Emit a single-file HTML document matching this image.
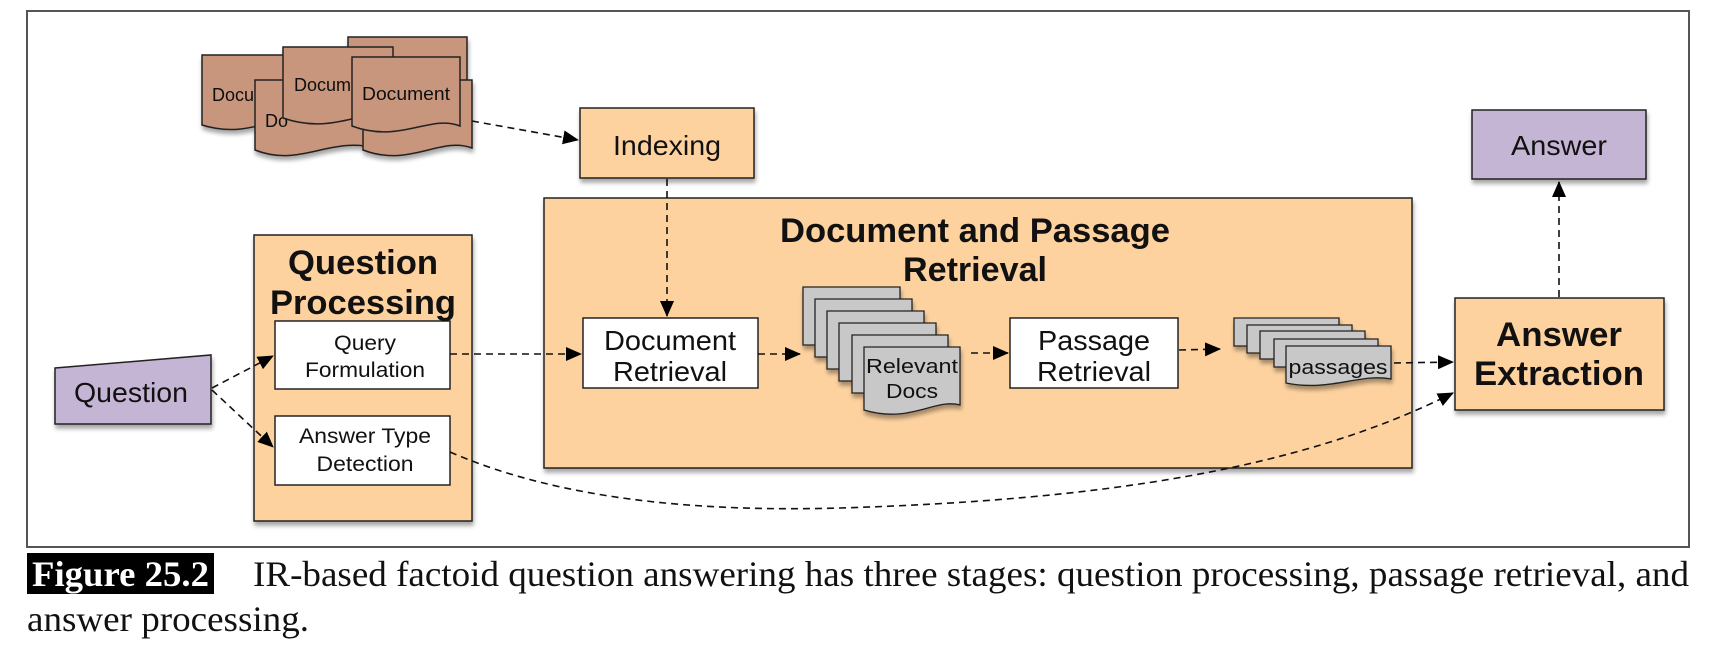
<!DOCTYPE html>
<html><head><meta charset="utf-8"><style>
html,body{margin:0;padding:0;background:#fff;width:1722px;height:646px;overflow:hidden}
svg{display:block}
.s{font-family:"Liberation Sans",Arial,sans-serif}
</style></head><body>
<svg width="1722" height="646" viewBox="0 0 1722 646" xmlns="http://www.w3.org/2000/svg">
<defs>
<filter id="sh" x="-10%" y="-10%" width="130%" height="140%">
<feGaussianBlur in="SourceAlpha" stdDeviation="2"/><feOffset dx="1" dy="4"/>
<feComponentTransfer><feFuncA type="linear" slope="0.35"/></feComponentTransfer>
<feMerge><feMergeNode/><feMergeNode in="SourceGraphic"/></feMerge></filter>
<marker id="ar2" markerWidth="16" markerHeight="14" refX="15" refY="7" orient="auto" markerUnits="userSpaceOnUse">
<path d="M0,0 L16,7 L0,14 z" fill="#000"/></marker>
</defs>
<rect x="27" y="11" width="1662" height="536" fill="none" stroke="#555" stroke-width="2"/>

<g stroke="#222" stroke-width="1.5" fill="#c8957d" filter="url(#sh)" class="s" font-size="18">
<path d="M202,55 H300 V124 C275,112 250,140 202,125 Z"/>
<text x="212" y="101" fill="#111" stroke="none">Docu</text>
<path d="M348,37 H467 V102 H348 Z"/>
<path d="M255,80 H375 V148 C330,136 300,168 255,150 Z"/>
<text x="265" y="127" fill="#111" stroke="none">Do</text>
<path d="M283,47 H393 V117 C365,106 335,136 283,118 Z"/>
<text x="294" y="91" fill="#111" stroke="none">Docum</text>
<path d="M363,80 H472 V148 C440,136 410,168 363,150 Z"/>
<path d="M352,57 H460 V126 C430,114 400,144 352,126 Z"/>
<text x="406" y="100" fill="#111" stroke="none" text-anchor="middle" textLength="88" lengthAdjust="spacingAndGlyphs">Document</text>
</g>

<g stroke="#222" stroke-width="1.5" filter="url(#sh)">
<rect x="580" y="108" width="174" height="70" fill="#fdd29f"/>
<rect x="544" y="198" width="868" height="270" fill="#fdd29f"/>
<rect x="254" y="235" width="218" height="286" fill="#fdd29f"/>
<rect x="275" y="321" width="175" height="68" fill="#fff"/>
<rect x="275" y="416" width="175" height="69" fill="#fff"/>
<path d="M55,368 L211,355 L211,424 L55,424 Z" fill="#c5b5d5"/>
<rect x="583" y="318" width="175" height="70" fill="#fff"/>
<rect x="1010" y="318" width="168" height="70" fill="#fff"/>
<rect x="1455" y="298" width="209" height="112" fill="#fdd29f"/>
<rect x="1472" y="110" width="174" height="69" fill="#c5b5d5"/>
</g>

<g stroke="#222" stroke-width="1.3" fill="#c8c8c8" filter="url(#sh)">
<path d="M803,287 H900 V345 H803 Z"/>
<path d="M815,299 H912 V357 H815 Z"/>
<path d="M827,311 H924 V369 H827 Z"/>
<path d="M839,323 H936 V381 H839 Z"/>
<path d="M852,335 H948 V393 H852 Z"/>
<path d="M864,347 H960 V405 C935,398 910,424 864,410 Z"/>
<path d="M1234,318 H1339 V346 H1234 Z"/>
<path d="M1247,325 H1352 V353 H1247 Z"/>
<path d="M1260,331 H1365 V359 H1260 Z"/>
<path d="M1274,339 H1378 V367 H1274 Z"/>
<path d="M1286,346 H1391 V379 C1360,373 1330,392 1286,383 Z"/>
</g>

<g class="s" fill="#111" text-anchor="middle">
<text x="667" y="155" font-size="28" textLength="108" lengthAdjust="spacingAndGlyphs">Indexing</text>
<text x="975" y="242" font-size="34" font-weight="bold" textLength="390" lengthAdjust="spacingAndGlyphs">Document and Passage</text>
<text x="975" y="281" font-size="34" font-weight="bold" textLength="144" lengthAdjust="spacingAndGlyphs">Retrieval</text>
<text x="363" y="274" font-size="34" font-weight="bold" textLength="150" lengthAdjust="spacingAndGlyphs">Question</text>
<text x="363" y="314" font-size="34" font-weight="bold" textLength="186" lengthAdjust="spacingAndGlyphs">Processing</text>
<text x="365" y="350" font-size="21" textLength="62" lengthAdjust="spacingAndGlyphs">Query</text>
<text x="365" y="377" font-size="21" textLength="120" lengthAdjust="spacingAndGlyphs">Formulation</text>
<text x="365" y="443" font-size="21" textLength="132" lengthAdjust="spacingAndGlyphs">Answer Type</text>
<text x="365" y="471" font-size="21" textLength="97" lengthAdjust="spacingAndGlyphs">Detection</text>
<text x="131" y="402" font-size="28" textLength="114" lengthAdjust="spacingAndGlyphs">Question</text>
<text x="670" y="350" font-size="28" textLength="132" lengthAdjust="spacingAndGlyphs">Document</text>
<text x="670" y="381" font-size="28" textLength="114" lengthAdjust="spacingAndGlyphs">Retrieval</text>
<text x="1094" y="350" font-size="28" textLength="112" lengthAdjust="spacingAndGlyphs">Passage</text>
<text x="1094" y="381" font-size="28" textLength="114" lengthAdjust="spacingAndGlyphs">Retrieval</text>
<text x="912" y="373" font-size="20" textLength="92" lengthAdjust="spacingAndGlyphs">Relevant</text>
<text x="912" y="398" font-size="20" textLength="52" lengthAdjust="spacingAndGlyphs">Docs</text>
<text x="1338" y="374" font-size="20" textLength="99" lengthAdjust="spacingAndGlyphs">passages</text>
<text x="1559" y="346" font-size="34" font-weight="bold" textLength="126" lengthAdjust="spacingAndGlyphs">Answer</text>
<text x="1559" y="385" font-size="34" font-weight="bold" textLength="170" lengthAdjust="spacingAndGlyphs">Extraction</text>
<text x="1559" y="155" font-size="28" textLength="96" lengthAdjust="spacingAndGlyphs">Answer</text>
</g>

<g stroke="#111" stroke-width="1.6" fill="none" stroke-dasharray="7,5">
<path d="M472,121 L578,140" marker-end="url(#ar2)"/>
<path d="M667,179 L667,316" marker-end="url(#ar2)"/>
<path d="M450,354 L581,354" marker-end="url(#ar2)"/>
<path d="M758,354 L800,354" marker-end="url(#ar2)"/>
<path d="M971,353 L1008,353" marker-end="url(#ar2)"/>
<path d="M1179,350 L1220,349" marker-end="url(#ar2)"/>
<path d="M1394,363 L1453,362" marker-end="url(#ar2)"/>
<path d="M1559,297 L1559,182" marker-end="url(#ar2)"/>
<path d="M212,388 L273,356" marker-end="url(#ar2)"/>
<path d="M212,390 L273,447" marker-end="url(#ar2)"/>
<path d="M450,452 C560,500 700,512 840,508 C1100,500 1300,470 1453,393" marker-end="url(#ar2)"/>
</g>

<rect x="27" y="553" width="187" height="41" fill="#000"/>
<text x="32" y="586" font-family="'Liberation Serif',serif" font-weight="bold" font-size="36" fill="#fff" textLength="177" lengthAdjust="spacingAndGlyphs">Figure 25.2</text>
<text x="253" y="586" font-family="'Liberation Serif',serif" font-size="36" fill="#111" textLength="1436" lengthAdjust="spacingAndGlyphs">IR-based factoid question answering has three stages: question processing, passage retrieval, and</text>
<text x="27" y="631" font-family="'Liberation Serif',serif" font-size="36" fill="#111" textLength="282" lengthAdjust="spacingAndGlyphs">answer processing.</text>
</svg>
</body></html>
